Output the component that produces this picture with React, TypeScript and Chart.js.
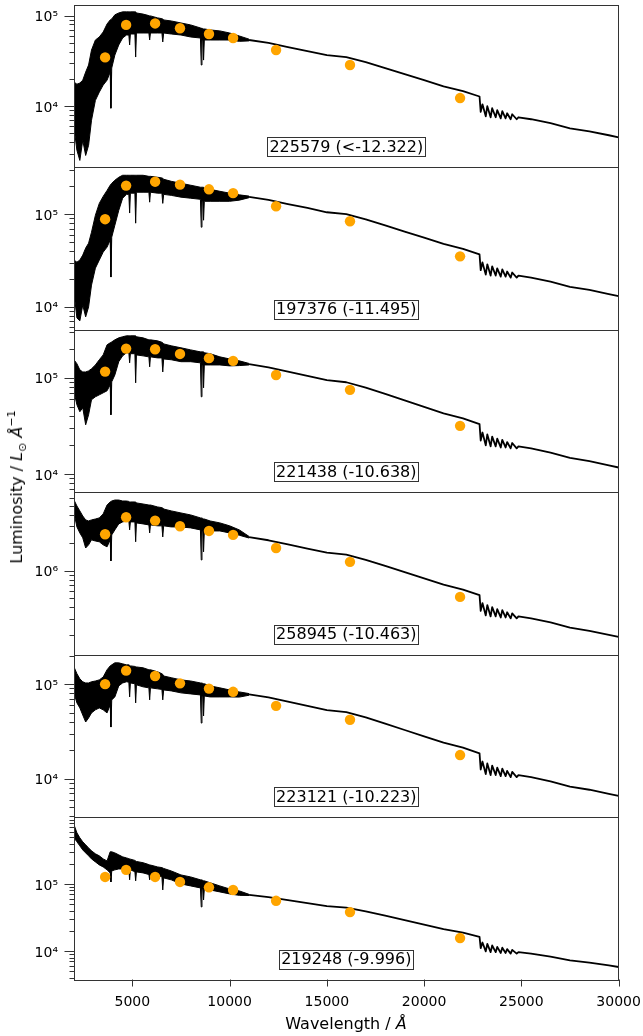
import React, { useEffect, useRef } from "react";
import { Chart, registerables } from "chart.js";

Chart.register(...registerables);

const FONT = "'DejaVu Sans', 'Noto Sans', sans-serif";

// Wavelength grids (Angstrom)
const blueWave = [2000, 2150, 2300, 2450, 2600, 2750, 2900, 3100, 3300, 3500, 3700, 3860, 3900, 3940, 4100, 4300, 4500, 4700, 4820, 4860, 4900, 5130, 5170, 5210, 5550, 5850, 5890, 5930, 6300, 6520, 6563, 6610, 7000, 7500, 8000, 8500, 8542, 8580, 8620, 8662, 8700, 9000, 9500, 10000, 10500, 11000];
const redWave = [11000, 12000, 13000, 14000, 15000, 16000, 17000, 18000, 19000, 20000, 21000, 22000, 22850, 22910, 23000, 23170, 23250, 23420, 23500, 23680, 23760, 23940, 24020, 24190, 24270, 24450, 24530, 24760, 24850, 25500, 26500, 27500, 28500, 29500, 30000];
const bandWave = [3600, 4680, 6170, 7450, 8940, 10180, 12390, 16190, 21850];

// Panel 1: 225579
const p1Upper = [18500, 17500, 18000, 19400, 23800, 28500, 41700, 53800, 58100, 65900, 80900, 89600, 89600, 91900, 102000, 107000, 110000, 110000, 110000, 110000, 110000, 110000, 110000, 107000, 104000, 100000, 99300, 99300, 94400, 92500, 91900, 89600, 87300, 83000, 78900, 73100, 73100, 71300, 71300, 71300, 71300, 69500, 67800, 64300, 59600, 55000];
const p1Lower = [5850, 3260, 2520, 4210, 2860, 3700, 7000, 11600, 14300, 17100, 19400, 23800, 9510, 26400, 36700, 47400, 56600, 61100, 61100, 47400, 62700, 62700, 34900, 64300, 64300, 64300, 53800, 64300, 64300, 64300, 51200, 64300, 62700, 61100, 58100, 56600, 28500, 53800, 53800, 32300, 53800, 53800, 53800, 53800, 52000, 52600];
const p1Red = [53800, 49900, 45000, 40600, 36700, 34900, 30700, 26400, 22600, 19400, 16600, 14700, 12800, 8650, 10500, 7740, 10000, 7550, 9500, 7550, 9040, 7350, 8810, 7350, 8360, 7180, 8150, 7180, 7550, 7180, 6490, 5700, 5280, 4780, 4540];
const p1Dots = [34600, 79000, 82000, 72500, 62700, 56600, 41700, 28500, 12300];

// Panel 2: 197376
const p2Upper = [31900, 30300, 31900, 36100, 43000, 48600, 63900, 97500, 131000, 156000, 181000, 206000, 206000, 216000, 233000, 251000, 264000, 264000, 264000, 264000, 264000, 264000, 264000, 264000, 264000, 257000, 257000, 257000, 251000, 247000, 245000, 239000, 227000, 216000, 206000, 196000, 196000, 196000, 196000, 196000, 191000, 186000, 177000, 169000, 162000, 157000];
const p2Lower = [14100, 7550, 7010, 10400, 7750, 9930, 17100, 26100, 31900, 38900, 44100, 52500, 20900, 56500, 76000, 110000, 149000, 164000, 164000, 103000, 169000, 169000, 80000, 173000, 173000, 173000, 135000, 173000, 169000, 169000, 131000, 164000, 160000, 153000, 149000, 145000, 72400, 138000, 138000, 86100, 138000, 138000, 138000, 138000, 142000, 151000];
const p2Red = [154000, 143000, 129000, 117000, 105000, 100000, 88100, 75800, 64900, 55700, 47700, 42200, 36700, 24800, 30100, 22200, 28700, 21700, 27300, 21700, 26000, 21100, 25300, 21100, 24000, 20600, 23400, 20600, 21700, 20600, 18600, 16400, 15200, 13700, 13000];
const p2Dots = [88400, 204000, 225000, 209000, 186000, 169000, 122000, 84000, 35000];

// Panel 3: 221438
const p3Upper = [154000, 140000, 121000, 115000, 115000, 118000, 124000, 136000, 154000, 173000, 220000, 231000, 231000, 236000, 248000, 260000, 267000, 273000, 273000, 273000, 273000, 273000, 273000, 267000, 260000, 248000, 248000, 248000, 242000, 234000, 231000, 225000, 215000, 205000, 195000, 186000, 186000, 186000, 186000, 186000, 182000, 178000, 165000, 157000, 150000, 141000];
const p3Lower = [71600, 52500, 44400, 48800, 32500, 41300, 59200, 63500, 66500, 69800, 73300, 84600, 41300, 90800, 107000, 147000, 169000, 182000, 182000, 143000, 178000, 178000, 88700, 173000, 169000, 165000, 130000, 165000, 161000, 161000, 115000, 157000, 154000, 147000, 147000, 143000, 63500, 136000, 136000, 78700, 136000, 136000, 136000, 133000, 134000, 136000];
const p3Red = [138600, 128500, 115900, 104600, 94500, 89900, 79100, 68000, 58200, 50000, 42800, 37900, 33000, 22300, 27000, 19900, 25800, 19400, 24500, 19400, 23300, 18900, 22700, 18900, 21500, 18500, 21000, 18500, 19400, 18500, 16700, 14700, 13600, 12300, 11700];
const p3Dots = [116000, 201000, 198000, 177000, 160000, 150000, 107000, 75000, 31700];

// Panel 4: 258945
const p4Upper = [5750000, 4960000, 4390000, 3870000, 3510000, 3420000, 3510000, 3590000, 3690000, 4070000, 5080000, 5480000, 5480000, 5610000, 5750000, 5750000, 5610000, 5610000, 5550000, 5480000, 5480000, 5480000, 5480000, 5350000, 5210000, 5080000, 5080000, 5080000, 4840000, 4760000, 4720000, 4600000, 4390000, 4170000, 3970000, 3690000, 3690000, 3690000, 3640000, 3590000, 3590000, 3420000, 3260000, 3030000, 2740000, 2330000];
const p4Lower = [4170000, 2950000, 2540000, 2250000, 1750000, 1890000, 2140000, 2080000, 2040000, 1890000, 1800000, 2140000, 1270000, 2420000, 2740000, 3180000, 3340000, 3420000, 3420000, 2740000, 3340000, 3340000, 2040000, 3260000, 3180000, 3100000, 2540000, 3100000, 3030000, 3030000, 2300000, 3030000, 2950000, 2950000, 2880000, 2740000, 1300000, 2670000, 2670000, 1590000, 2670000, 2670000, 2670000, 2540000, 2400000, 2240000];
const p4Red = [2284000, 2119000, 1911000, 1724000, 1558000, 1482000, 1304000, 1121000, 959600, 823700, 704800, 624200, 543500, 367300, 445800, 328600, 424600, 320600, 403400, 320600, 383800, 312100, 374100, 312100, 355000, 304900, 346000, 304900, 320600, 304900, 275600, 242000, 224200, 203000, 192800];
const p4Dots = [2460000, 3750000, 3450000, 3000000, 2670000, 2420000, 1750000, 1240000, 520000];

// Panel 5: 223121
const p5Upper = [152000, 129000, 114000, 106000, 103000, 103000, 106000, 108000, 111000, 119000, 142000, 156000, 156000, 160000, 168000, 168000, 164000, 160000, 160000, 158000, 156000, 154000, 153000, 152000, 149000, 142000, 142000, 142000, 135000, 129000, 127000, 122000, 117000, 111000, 108000, 103000, 103000, 103000, 102000, 101000, 101000, 95900, 91400, 86900, 82800, 79500];
const p5Lower = [80900, 63400, 56100, 47200, 39800, 43900, 49700, 53500, 56100, 53500, 49700, 60300, 35200, 68200, 73300, 95900, 103000, 106000, 105000, 73300, 103000, 101000, 63400, 98400, 93700, 91400, 68200, 91400, 89200, 88000, 68200, 86900, 84900, 80900, 78900, 76900, 38800, 75000, 75000, 46100, 75000, 73300, 73300, 73300, 73000, 76400];
const p5Red = [77960, 72310, 65200, 58830, 53180, 50570, 44480, 38250, 32750, 28110, 24050, 21300, 18550, 12530, 15210, 11220, 14490, 10940, 13770, 10940, 13100, 10650, 12770, 10650, 12110, 10400, 11810, 10400, 10940, 10400, 9400, 8260, 7650, 6930, 6580];
const p5Dots = [100000, 139000, 122000, 102000, 89800, 83000, 59000, 42000, 17800];

// Panel 6: 219248
const p6Upper = [760000, 577000, 486000, 424000, 382000, 344000, 311000, 281000, 262000, 236000, 220000, 301000, 301000, 301000, 290000, 271000, 253000, 244000, 238000, 236000, 234000, 224000, 220000, 216000, 207000, 194000, 192000, 191000, 179000, 175000, 173000, 170000, 156000, 136000, 127000, 115000, 115000, 115000, 113000, 111000, 111000, 104000, 93300, 84100, 78700, 69900];
const p6Lower = [486000, 424000, 369000, 321000, 290000, 262000, 236000, 213000, 192000, 179000, 162000, 146000, 107000, 156000, 162000, 167000, 167000, 162000, 162000, 115000, 162000, 152000, 111000, 151000, 146000, 138000, 115000, 136000, 132000, 128000, 81300, 123000, 115000, 100000, 93300, 87100, 45400, 84100, 84100, 57700, 84100, 81300, 76000, 71000, 67500, 67200];
const p6Red = [68540, 63570, 57330, 51720, 46760, 44460, 39110, 33630, 28790, 24720, 21150, 18730, 16310, 11020, 13380, 9860, 12740, 9620, 12100, 9620, 11520, 9360, 11220, 9360, 10650, 9150, 10380, 9150, 9620, 9150, 8270, 7260, 6730, 6090, 5780];
const p6Dots = [127000, 162000, 127000, 107000, 89000, 81000, 56000, 38000, 15600];

const panelNames = ["225579 (<-12.322)", "197376 (-11.495)", "221438 (-10.638)", "258945 (-10.463)", "223121 (-10.223)", "219248 (-9.996)"];
const yMin = [2110, 5610, 6470, 124000, 3930, 3760];
const yMax = [131000, 321000, 315000, 6970000, 205000, 990000];
const yMajor = [[1e4, 1e5], [1e4, 1e5], [1e4, 1e5], [1e6], [1e4, 1e5], [1e4, 1e5]];
const xTicks = [5000, 10000, 15000, 20000, 25000, 30000];

const upperSets = [p1Upper, p2Upper, p3Upper, p4Upper, p5Upper, p6Upper];
const lowerSets = [p1Lower, p2Lower, p3Lower, p4Lower, p5Lower, p6Lower];
const redSets = [p1Red, p2Red, p3Red, p4Red, p5Red, p6Red];
const dotSets = [p1Dots, p2Dots, p3Dots, p4Dots, p5Dots, p6Dots];

// layout
const W = 643;
const H = 1036;
const PLOT_LEFT = 74;
const PLOT_RIGHT = 618.6;
const FIRST_TOP = 5;
const PANEL_H = 162.42;
const PAD = 20;
const MAJOR_LEN = 10;
const MINOR_LEN = 5;
const XTICK_LEN = 7;

const SUP: Record<string, string> = { "0": "⁰", "1": "¹", "2": "²", "3": "³", "4": "⁴", "5": "⁵", "6": "⁶", "7": "⁷", "8": "⁸", "9": "⁹", "-": "⁻" };
function supLabel(v: number) {
  const e = Math.round(Math.log10(v));
  return "10" + String(e).split("").map((c) => SUP[c] || c).join("");
}

function toXY(xs: number[], ys: number[]) {
  return xs.map((x, i) => ({ x, y: ys[i] }));
}

function decorPlugin(idx: number, last: boolean) {
  return {
    id: "decor" + idx,
    afterDraw(chart: any) {
      const { ctx, chartArea: a, scales } = chart;
      const ys = scales.y;
      const xs = scales.x;
      ctx.save();
      ctx.strokeStyle = "#333";
      ctx.lineWidth = 1;
      const lo = yMin[idx];
      const hi = yMax[idx];
      const left = Math.round(a.left) + 0.5;
      for (let e = Math.floor(Math.log10(lo)); e <= Math.ceil(Math.log10(hi)); e++) {
        for (let k = 1; k <= 9; k++) {
          const v = k * Math.pow(10, e);
          if (v < lo || v > hi) continue;
          const py = Math.round(ys.getPixelForValue(v)) + 0.5;
          const len = k === 1 ? MAJOR_LEN : MINOR_LEN;
          ctx.beginPath();
          ctx.moveTo(left - len, py);
          ctx.lineTo(left, py);
          ctx.stroke();
        }
      }
      if (last) {
        for (const v of xTicks) {
          const px = Math.round(xs.getPixelForValue(v)) + 0.5;
          ctx.beginPath();
          ctx.moveTo(px, a.bottom);
          ctx.lineTo(px, a.bottom + XTICK_LEN);
          ctx.stroke();
        }
      }
      // frame
      const t = Math.round(a.top) + 0.5;
      const b = Math.round(a.bottom) + 0.5;
      const r = Math.round(a.right) - 0.5;
      ctx.strokeRect(left, t, r - left, b - t);
      // label box
      ctx.font = `16px ${FONT}`;
      const text = panelNames[idx];
      const tw = ctx.measureText(text).width;
      const cx = (a.left + a.right) / 2;
      const cy = a.bottom - 20.5;
      const bw = Math.round(tw + 4);
      const bh = 19;
      const bx = Math.round(cx - bw / 2) + 0.5;
      const by = Math.round(cy - bh / 2) + 0.5;
      ctx.fillStyle = "#fff";
      ctx.fillRect(bx, by, bw, bh);
      ctx.strokeStyle = "#333";
      ctx.strokeRect(bx, by, bw, bh);
      ctx.fillStyle = "#000";
      ctx.textAlign = "center";
      ctx.textBaseline = "middle";
      ctx.fillText(text, cx, cy + 1);
      ctx.restore();
    },
  };
}

function Panel({ idx }: { idx: number }) {
  const ref = useRef<HTMLCanvasElement | null>(null);
  const top = FIRST_TOP + idx * PANEL_H;
  const bottom = top + PANEL_H;
  const last = idx === panelNames.length - 1;
  const cTop = Math.floor(top) - PAD;
  const cBottom = last ? H : Math.ceil(bottom) + PAD;
  const cH = cBottom - cTop;

  useEffect(() => {
    const canvas = ref.current;
    if (!canvas) return;
    const chart = new Chart(canvas, {
      type: "line",
      data: {
        datasets: [
          {
            data: toXY(blueWave, upperSets[idx]),
            borderColor: "#000",
            backgroundColor: "#000",
            borderWidth: 1,
            pointRadius: 0,
            fill: "+1",
            order: 3,
          },
          {
            data: toXY(blueWave, lowerSets[idx]),
            borderColor: "#000",
            backgroundColor: "#000",
            borderWidth: 1,
            pointRadius: 0,
            fill: false,
            order: 3,
          },
          {
            data: toXY(redWave, redSets[idx]),
            borderColor: "#000",
            borderWidth: 1.8,
            pointRadius: 0,
            fill: false,
            order: 2,
          },
          {
            data: toXY(bandWave, dotSets[idx]),
            showLine: false,
            pointRadius: 5.2,
            pointBackgroundColor: "#ffa500",
            pointBorderColor: "#ffa500",
            pointBorderWidth: 0,
            borderColor: "#ffa500",
            backgroundColor: "#ffa500",
            order: 0,
          },
        ] as any,
      },
      options: {
        responsive: false,
        animation: false,
        events: [],
        layout: {
          autoPadding: false,
          padding: { left: 0, right: W - PLOT_RIGHT, top: top - cTop, bottom: last ? 0 : cBottom - bottom },
        },
        plugins: { legend: { display: false }, tooltip: { enabled: false } },
        elements: { line: { tension: 0, borderJoinStyle: "round" } },
        scales: {
          x: {
            type: "linear",
            min: 2000,
            max: 30000,
            display: last,
            afterBuildTicks: (s: any) => {
              s.ticks = xTicks.map((v) => ({ value: v }));
            },
            afterFit: (s: any) => {
              if (last) {
                s.height = cBottom - bottom;
                s.paddingLeft = 0;
                s.paddingRight = 0;
              }
            },
            ticks: {
              callback: (v: any) => String(v),
              font: { family: FONT, size: 14 },
              color: "#000",
              padding: 0,
              maxRotation: 0,
              autoSkip: false,
            },
            grid: { display: true, drawOnChartArea: false, drawTicks: true, tickLength: 14, color: "rgba(0,0,0,0)" },
            border: { display: false },
          },
          y: {
            type: "logarithmic",
            min: yMin[idx],
            max: yMax[idx],
            afterBuildTicks: (s: any) => {
              s.ticks = yMajor[idx].map((v) => ({ value: v }));
            },
            afterFit: (s: any) => {
              s.width = PLOT_LEFT;
              s.paddingTop = 0;
              s.paddingBottom = 0;
            },
            ticks: {
              callback: (v: any) => supLabel(Number(v)),
              font: { family: FONT, size: 14 },
              color: "#000",
              padding: 4,
              labelOffset: 2,
              autoSkip: false,
            },
            grid: { display: true, drawOnChartArea: false, drawTicks: true, tickLength: 12, color: "rgba(0,0,0,0)" },
            border: { display: false },
          },
        },
      } as any,
      plugins: [decorPlugin(idx, last)],
    });
    return () => chart.destroy();
  }, []);

  return (
    <canvas
      ref={ref}
      width={W}
      height={cH}
      style={{ position: "absolute", left: 0, top: cTop, width: W, height: cH, display: "block" }}
    />
  );
}

export default function App() {
  return (
    <div style={{ position: "fixed", left: 0, top: 0, width: W, height: H, background: "#fff", overflow: "hidden" }}>
      {panelNames.map((_, i) => (
        <Panel key={i} idx={i} />
      ))}
      <div
        style={{
          position: "absolute",
          left: 18,
          top: 487,
          transform: "translate(-50%, -50%) rotate(-90deg)",
          whiteSpace: "nowrap",
          fontFamily: FONT,
          fontSize: 16,
          lineHeight: "20px",
          color: "#000",
        }}
      >
        Luminosity / <span style={{ fontStyle: "italic" }}>L</span>
        <span style={{ fontSize: 11, position: "relative", top: 4 }}>⊙</span>{" "}
        <span style={{ fontStyle: "italic" }}>Å</span>
        <span style={{ fontSize: 11, position: "relative", top: -7 }}>−1</span>
      </div>
      <div
        style={{
          position: "absolute",
          left: 346,
          top: 1024,
          transform: "translate(-50%, -50%)",
          whiteSpace: "nowrap",
          fontFamily: FONT,
          fontSize: 16,
          lineHeight: "20px",
          color: "#000",
        }}
      >
        Wavelength / <span style={{ fontStyle: "italic" }}>Å</span>
      </div>
    </div>
  );
}
